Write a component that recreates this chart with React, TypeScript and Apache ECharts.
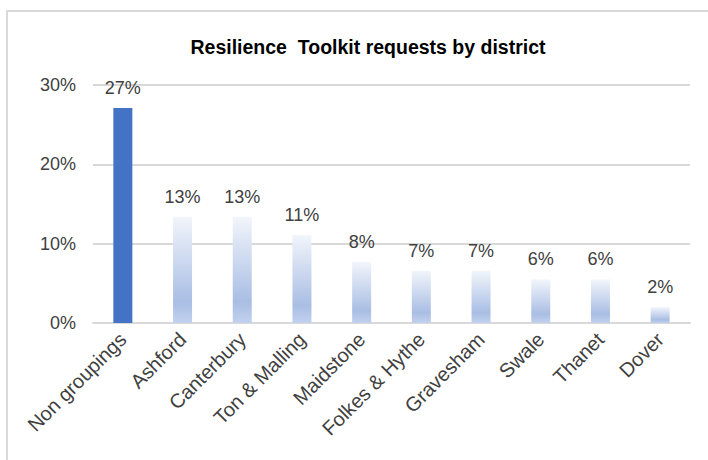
import React, { useEffect, useRef } from "react";
import * as echarts from "echarts";

const categories = [
  "Non groupings",
  "Ashford",
  "Canterbury",
  "Ton & Malling",
  "Maidstone",
  "Folkes & Hythe",
  "Gravesham",
  "Swale",
  "Thanet",
  "Dover",
];
const values = [27.1, 13.4, 13.4, 11.1, 7.7, 6.6, 6.6, 5.5, 5.5, 2.0];
const yTicks = [0, 10, 20, 30];
const titleText = "Resilience  Toolkit requests by district";

export default function App() {
  const ref = useRef<HTMLDivElement>(null);
  useEffect(() => {
    if (!ref.current) return;
    const chart = echarts.init(ref.current, null, { renderer: "svg" });
    const font = "'Liberation Sans', Arial, sans-serif";
    const gradient = new echarts.graphic.LinearGradient(0, 0, 0, 1, [
      { offset: 0, color: "#f2f5fb" },
      { offset: 0.8, color: "#a9bee4" },
      { offset: 1, color: "#c2d1ee" },
    ]);
    chart.setOption({
      animation: false,
      backgroundColor: "#ffffff",
      title: {
        text: titleText,
        left: 363,
        top: 32,
        textAlign: "center",
        textStyle: {
          fontFamily: font,
          fontSize: 19.5,
          fontWeight: "bold",
          color: "#000000",
        },
      },
      graphic: [
        {
          type: "rect",
          shape: { x: 7, y: 11, width: 720, height: 470 },
          style: { fill: "none", stroke: "#d9d9d9", lineWidth: 2 },
          silent: true,
        },
      ],
      grid: { left: 93, right: 18, top: 85, bottom: 137 },
      xAxis: {
        type: "category",
        data: categories,
        axisTick: { show: false },
        axisLine: { show: true, lineStyle: { color: "#d9d9d9", width: 2 } },
        axisLabel: {
          rotate: 45,
          interval: 0,
          margin: 13,
          fontFamily: font,
          fontSize: 20,
          color: "#404040",
        },
      },
      yAxis: {
        type: "value",
        min: yTicks[0],
        max: yTicks[yTicks.length - 1],
        interval: 10,
        axisLine: { show: false },
        axisTick: { show: false },
        splitLine: { lineStyle: { color: "#d9d9d9", width: 2 } },
        axisLabel: {
          formatter: "{value}%",
          margin: 17,
          fontFamily: font,
          fontSize: 18,
          color: "#404040",
        },
      },
      series: [
        {
          type: "bar",
          barWidth: 19,
          data: values.map((v, i) => ({
            value: v,
            itemStyle: { color: i === 0 ? "#4472c4" : gradient },
          })),
          label: {
            show: true,
            position: "top",
            distance: 11,
            formatter: (p: any) => Math.round(p.value) + "%",
            fontFamily: font,
            fontSize: 18,
            color: "#404040",
          },
        },
      ],
    });
    return () => chart.dispose();
  }, []);
  return (
    <div
      ref={ref}
      style={{ position: "fixed", left: 0, top: 0, width: 708, height: 460 }}
    />
  );
}
